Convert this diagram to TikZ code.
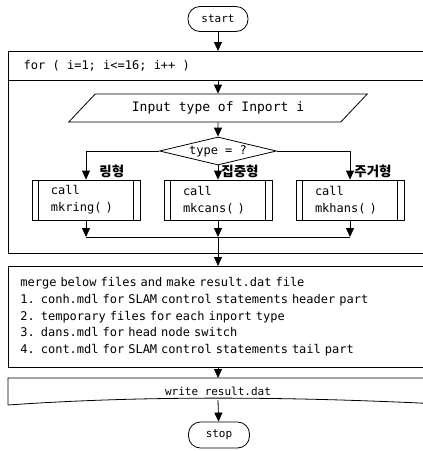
\documentclass[tikz,border=0pt]{standalone}
\usepackage{fontspec}
\newfontfamily\gul{DejaVu Sans Mono}
\newfontfamily\kr{Noto Sans CJK KR}
\usetikzlibrary{arrows.meta, positioning, shapes.geometric, calc}

\begin{document}
\begin{tikzpicture}[x=1pt, y=-1pt, line width=0.8pt,
  txt/.style={font=\gul\fontsize{12}{17}\selectfont},
  arr/.style={-{Triangle[length=9pt,width=8pt]}},
  term/.style={draw, rounded corners=12pt, minimum width=60pt, minimum height=25pt,
    inner sep=0pt, font=\gul\fontsize{11}{13}\selectfont},
  callbox/.style={draw, txt, align=left, text width=70pt, inner xsep=19pt, minimum height=40pt},
  kind/.style={font=\kr\bfseries\fontsize{13.5}{15}\selectfont, anchor=west, inner sep=0pt}]
  \useasboundingbox (0,0) rectangle (423,451);

  \node[term] (start) at (218,19) {start};

  % loop frame, open to the right
  \draw (440,51) -- (8,51) -- (8,253) -- (440,253);
  \draw (8,80) -- (440,80);
  \coordinate (looptop) at (218,51);
  \coordinate (loopsep) at (218,80);
  \node[txt, anchor=west] (fortxt) at (20,66) {for ( i=1; i<=16; i++ )};

  \node[draw, trapezium, trapezium left angle=45, trapezium right angle=135,
    trapezium stretches=true, minimum width=299pt, minimum height=28pt,
    font=\gul\fontsize{13}{15}\selectfont] (inport) at (218,108) {Input type of Inport i};
  \node[draw, diamond, aspect=4.2, minimum width=117pt, minimum height=28pt,
    inner sep=0pt, txt] (typeq) at (218,151) {type = ?};

  \node[callbox] (ring) at (86,200) {call\\mkring( )};
  \node[callbox] (cans) at (218,200) {call\\mkcans( )};
  \node[callbox] (hans) at (350,200) {call\\mkhans( )};
  \foreach \b in {ring,cans,hans} {
    \draw ([xshift=7pt]\b.north west) -- ([xshift=7pt]\b.south west);
    \draw ([xshift=-7pt]\b.north east) -- ([xshift=-7pt]\b.south east);
  }
  \node[kind] (lring) at (99,171) {링형};
  \node[kind] (lcans) at (221,171) {집중형};
  \node[kind] (lhans) at (354,171) {주거형};

  \draw[arr] (start) -- (looptop);
  \draw[arr] (loopsep) -- (inport);
  \draw[arr] (inport) -- (typeq);
  \draw[arr] (typeq.west) -| (ring.north);
  \draw[arr] (typeq.south) -- (cans.north);
  \draw[arr] (typeq.east) -| (hans.north);

  \coordinate (join) at (218,237);
  \draw[arr] (ring.south) -- (ring.south |- join);
  \draw[arr] (cans.south) -- (join);
  \draw[arr] (hans.south) -- (hans.south |- join);
  \draw (ring.south |- join) -- (hans.south |- join);

  \node[draw, txt, anchor=north west, text width=408pt, align=left, inner xsep=12pt,
    minimum height=101pt, font=\gul\fontsize{12}{16.7}\selectfont] (merge) at (8,266)
    {merge below files and make result.dat file\\
     1. conh.mdl for SLAM control statements header part\\
     2. temporary files for each inport type\\
     3. dans.mdl for head node switch\\
     4. cont.mdl for SLAM control statements tail part};
  \draw[arr] (join) -- (join |- merge.north);

  % document shape, open to the right
  \coordinate (writetop) at (218,378);
  \coordinate (writebot) at (218,400);
  \draw (440,378) -- (8,378) -- (8,405) .. controls (150,395) and (300,397) .. (440,404);
  \node[txt, font=\gul\fontsize{11}{13}\selectfont] (write) at (218,391) {write result.dat};
  \draw[arr] (join |- merge.south) -- (writetop);

  \node[term, minimum width=61pt, minimum height=26pt] (stop) at (219,435) {stop};
  \draw[arr] (writebot) -- (stop);
\end{tikzpicture}
\end{document}
